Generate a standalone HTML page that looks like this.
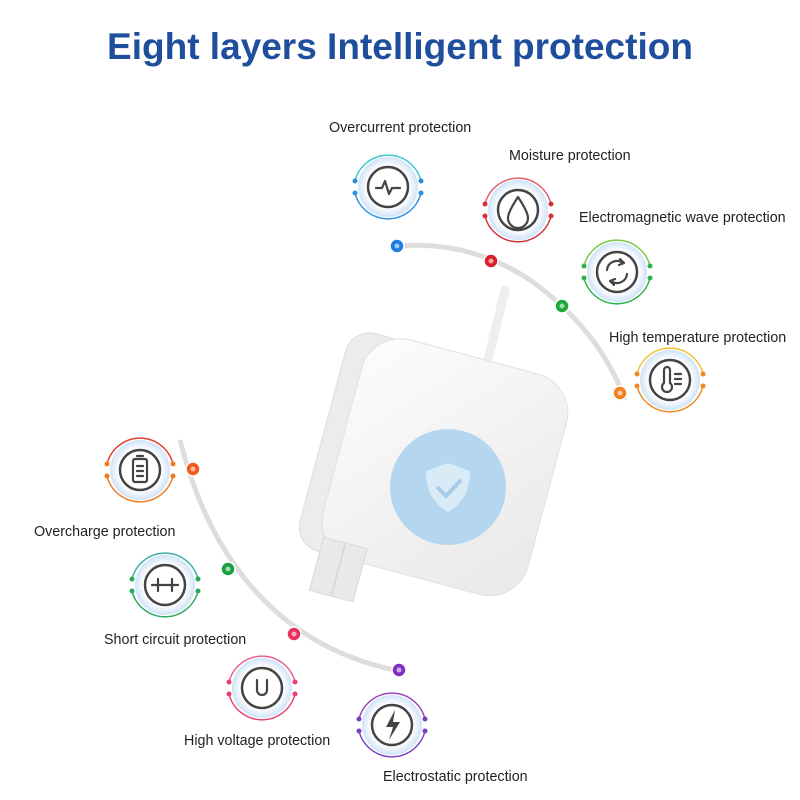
<!DOCTYPE html>
<html><head><style>
body{margin:0;width:800px;height:800px;background:#fff;overflow:hidden;font-family:"Liberation Sans",sans-serif;position:relative}
.t{position:absolute;font-size:14.3px;color:#222;white-space:nowrap}
h1{position:absolute;top:26px;left:0;width:800px;text-align:center;margin:0;font-size:37px;color:#1f4f9c;font-weight:bold}
</style></head><body>
<h1>Eight layers Intelligent protection</h1>
<svg width="800" height="800" style="position:absolute;left:0;top:0">
<defs>
<radialGradient id="g" cx="50%" cy="50%" r="50%"><stop offset="70%" stop-color="#fff"/><stop offset="100%" stop-color="#cfe3f7"/></radialGradient>
<linearGradient id="bd" x1="0" y1="0" x2="1" y2="1"><stop offset="0" stop-color="#fdfdfd"/><stop offset="1" stop-color="#e8e8e8"/></linearGradient>
</defs>
<path d="M397,246 Q470,240 530,280 Q600,330 625,400" fill="none" stroke="#ddd" stroke-width="5"/>
<path d="M180,440 C210,560 280,650 405,672" fill="none" stroke="#ddd" stroke-width="5"/>
<path d="M505,290 L488,360" stroke="#eee" stroke-width="9" stroke-linecap="round"/>
<g transform="rotate(15 440 470)">
<rect x="318" y="355" width="80" height="225" rx="25" fill="#ececec" stroke="#ddd"/>
<rect x="338" y="352" width="212" height="228" rx="40" fill="url(#bd)" stroke="#e2e2e2"/>
<rect x="345" y="565" width="22" height="55" fill="#e9e9e9" stroke="#d8d8d8"/>
<rect x="368" y="565" width="22" height="55" fill="#e9e9e9" stroke="#d8d8d8"/>
</g>
<circle cx="448" cy="487" r="58" fill="#b5d6ef"/>
<path d="M448,463 L470,471 Q470,500 448,512 Q426,500 426,471 Z" fill="#d9ebf7"/>
<path d="M437,487 L446,496 L461,480" stroke="#a8cce8" stroke-width="4" fill="none"/>
<g id="icons"></g>
<g stroke="#444" stroke-width="2.2" fill="none" stroke-linecap="round" stroke-linejoin="round">
<path d="M376,188 h6 l3,-7 l4,13 l3,-6 h8"/>
<path d="M518,197 Q508,212 508,218 A10,10 0 0 0 528,218 Q528,212 518,197 Z"/>
<path d="M607,270 a10,10 0 0 1 16,-7 M627,274 a10,10 0 0 1 -16,7 M620,259 l4,4 l-5,2 M614,285 l-4,-4 l5,-2"/>
<path d="M664,370 v13 a5,5 0 1 0 6,0 v-13 a3,3 0 0 0 -6,0 M675,374 h6 M675,379 h6 M675,384 h6"/>
<rect x="133" y="459" width="14" height="23" rx="2"/><path d="M137,456 h6 M137,466 h6 M137,471 h6 M137,476 h6"/>
<path d="M152,585 h26 M158,579 v12 M172,579 v12"/>
<path d="M257,680 v10 a5,5 0 0 0 10,0 v-10"/>
</g>
<path d="M395,710 l-9,17 h7 l-4,13 l11,-18 h-7 z" fill="#444"/>
</svg>
<script>
var icons=[[388,187,"#2a8fe0","#40c8d0"],[518,210,"#d62f3a","#e0606a"],[617,272,"#2eb24a","#7ac943"],[670,380,"#f08a1e","#f2c230"],[140,470,"#f07a20","#e04030"],[165,585,"#2aa85a","#3bb0a0"],[262,688,"#e8406a","#e86090"],[392,725,"#7c3fc0","#a040c0"]];
var dots=[[397,246,"#1c7fe0"],[491,261,"#d8202a"],[562,306,"#1fa83a"],[620,393,"#f08020"],[193,469,"#f05a1e"],[228,569,"#19a040"],[294,634,"#e83060"],[399,670,"#8030c0"]];
var s="";
icons.forEach(function(i){var x=i[0],y=i[1];
s+='<circle cx="'+x+'" cy="'+y+'" r="30" fill="url(#g)"/>';
s+='<path d="M'+(x-33)+','+(y-6)+' A34,34 0 0 1 '+(x+33)+','+(y-6)+'" fill="none" stroke="'+i[3]+'" stroke-width="1.5"/>';
s+='<path d="M'+(x-33)+','+(y+6)+' A34,34 0 0 0 '+(x+33)+','+(y+6)+'" fill="none" stroke="'+i[2]+'" stroke-width="1.5"/>';
[[-33,-6],[33,-6],[-33,6],[33,6]].forEach(function(d){s+='<circle cx="'+(x+d[0])+'" cy="'+(y+d[1])+'" r="2.5" fill="'+i[2]+'"/>';});
s+='<circle cx="'+x+'" cy="'+y+'" r="20" fill="#fff" stroke="#444" stroke-width="2.5"/>';
});
dots.forEach(function(d){s+='<circle cx="'+d[0]+'" cy="'+d[1]+'" r="7" fill="'+d[2]+'" stroke="#fff" stroke-width="1.5"/><circle cx="'+d[0]+'" cy="'+d[1]+'" r="2.5" fill="#fff" opacity=".6"/>';});
document.getElementById("icons").innerHTML=s;
</script>
<div class="t" style="left:329px;top:120px">Overcurrent protection</div>
<div class="t" style="left:509px;top:148px">Moisture protection</div>
<div class="t" style="left:579px;top:210px">Electromagnetic wave protection</div>
<div class="t" style="left:609px;top:330px">High temperature protection</div>
<div class="t" style="left:34px;top:524px">Overcharge protection</div>
<div class="t" style="left:104px;top:632px">Short circuit protection</div>
<div class="t" style="left:184px;top:733px">High voltage protection</div>
<div class="t" style="left:383px;top:769px">Electrostatic protection</div>
</body></html>
